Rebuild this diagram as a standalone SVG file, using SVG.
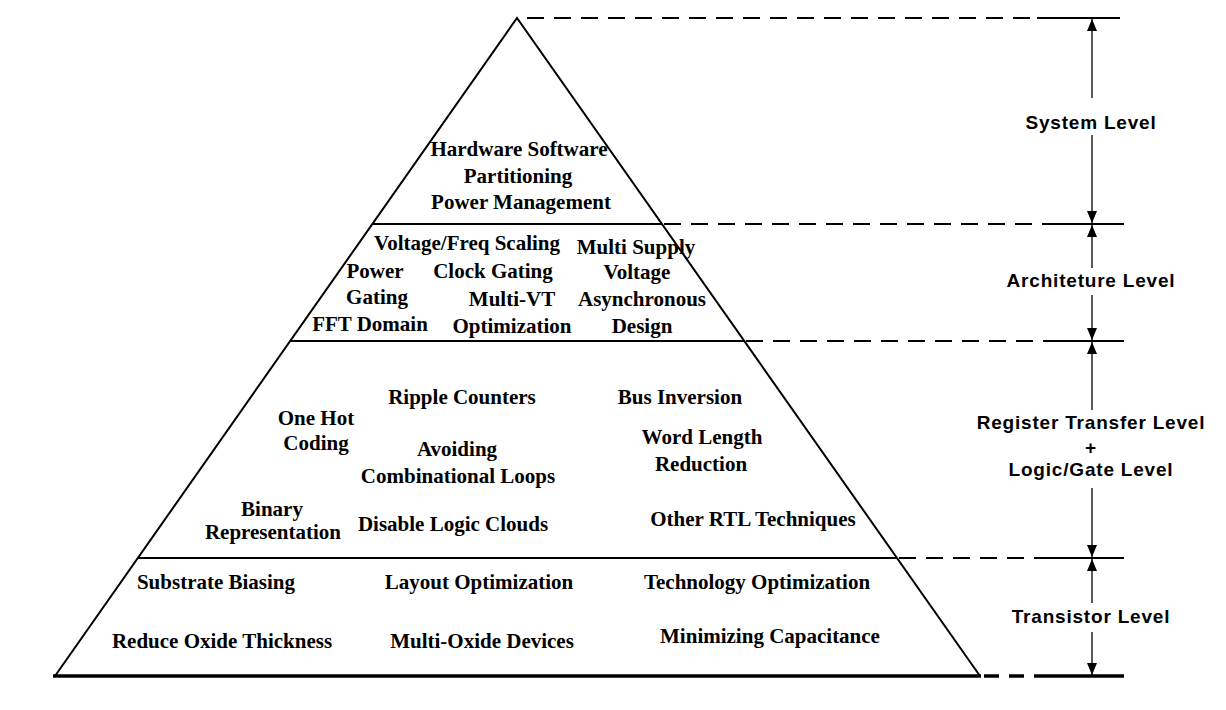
<svg xmlns="http://www.w3.org/2000/svg" width="1226" height="710" viewBox="0 0 1226 710">
<style>
.p{font-family:"Liberation Serif","Times New Roman",serif;font-weight:bold;font-size:21px;fill:#000;text-anchor:middle}
.l{font-family:"Liberation Sans",Arial,sans-serif;font-weight:bold;font-size:19px;letter-spacing:0.8px;fill:#000;text-anchor:middle}
.edge{stroke:#000;stroke-width:2;fill:none}
.dash{stroke:#000;stroke-width:2;stroke-dasharray:17 10;fill:none}
.solid{stroke:#000;stroke-width:2;fill:none}
.arr{stroke:#000;stroke-width:1.3;fill:none;marker-end:url(#ah)}
</style>
<defs>
<marker id="ah" viewBox="0 0 12 10" refX="12" refY="5" markerWidth="12" markerHeight="10" markerUnits="userSpaceOnUse" orient="auto">
<path d="M0,0 L12,5 L0,10 Z" fill="#000"/>
</marker>
</defs>
<rect width="1226" height="710" fill="#fff"/>
<g id="pyramid">
<polyline class="edge" points="55,676 517,18 980,676"/>
<line x1="372" y1="224" x2="662" y2="224" class="edge"/>
<line x1="290" y1="341" x2="744" y2="341" class="edge"/>
<line x1="138" y1="558" x2="897" y2="558" class="edge"/>
<line x1="53" y1="676" x2="981" y2="676" stroke="#000" stroke-width="3.5"/>
</g>
<g id="guides">
<line x1="527" y1="18" x2="1037" y2="18" class="dash"/>
<line x1="1037" y1="18" x2="1120" y2="18" class="solid"/>
<line x1="664" y1="224" x2="1045" y2="224" class="dash"/>
<line x1="1045" y1="224" x2="1124" y2="224" class="solid"/>
<line x1="746" y1="341" x2="1048" y2="341" class="dash"/>
<line x1="1048" y1="341" x2="1124" y2="341" class="solid"/>
<line x1="899" y1="558" x2="1047" y2="558" class="dash"/>
<line x1="1047" y1="558" x2="1124" y2="558" class="solid"/>
<line x1="984" y1="676" x2="1045" y2="676" stroke="#000" stroke-width="3.5" stroke-dasharray="15 10"/>
<line x1="1045" y1="676" x2="1124" y2="676" stroke="#000" stroke-width="3.5"/>
</g>
<g id="system-level">
<text class="p" x="519" y="156">Hardware Software</text>
<text class="p" x="518" y="183">Partitioning</text>
<text class="p" x="521" y="209">Power Management</text>
<text class="l" x="1091" y="129">System Level</text>
</g>
<g id="architecture-level">
<text class="p" x="467" y="250">Voltage/Freq Scaling</text>
<text class="p" x="636" y="254">Multi Supply</text>
<text class="p" x="375" y="278">Power</text>
<text class="p" x="493" y="278">Clock Gating</text>
<text class="p" x="637" y="279">Voltage</text>
<text class="p" x="377" y="304">Gating</text>
<text class="p" x="512" y="306">Multi-VT</text>
<text class="p" x="642" y="306">Asynchronous</text>
<text class="p" x="370" y="331">FFT Domain</text>
<text class="p" x="512" y="333">Optimization</text>
<text class="p" x="642" y="333">Design</text>
<text class="l" x="1091" y="287">Architeture Level</text>
</g>
<g id="rtl-logic-level">
<text class="p" x="462" y="404">Ripple Counters</text>
<text class="p" x="680" y="404">Bus Inversion</text>
<text class="p" x="316" y="425">One Hot</text>
<text class="p" x="316" y="450">Coding</text>
<text class="p" x="457" y="456">Avoiding</text>
<text class="p" x="458" y="483">Combinational Loops</text>
<text class="p" x="702" y="444">Word Length</text>
<text class="p" x="701" y="471">Reduction</text>
<text class="p" x="272" y="516">Binary</text>
<text class="p" x="273" y="539">Representation</text>
<text class="p" x="453" y="531">Disable Logic Clouds</text>
<text class="p" x="753" y="526">Other RTL Techniques</text>
<text class="l" x="1091" y="429">Register Transfer Level</text>
<text class="l" x="1091" y="454">+</text>
<text class="l" x="1091" y="476">Logic/Gate Level</text>
</g>
<g id="transistor-level">
<text class="p" x="216" y="589">Substrate Biasing</text>
<text class="p" x="479" y="589">Layout Optimization</text>
<text class="p" x="757" y="589">Technology Optimization</text>
<text class="p" x="222" y="648">Reduce Oxide Thickness</text>
<text class="p" x="482" y="648">Multi-Oxide Devices</text>
<text class="p" x="770" y="643">Minimizing Capacitance</text>
<text class="l" x="1091" y="623">Transistor Level</text>
</g>
<g id="connectors">
<line class="arr" x1="1092" y1="98" x2="1092" y2="19"/>
<line class="arr" x1="1092" y1="135" x2="1092" y2="223"/>
<line class="arr" x1="1092" y1="268" x2="1092" y2="225"/>
<line class="arr" x1="1092" y1="295" x2="1092" y2="340"/>
<line class="arr" x1="1092" y1="410" x2="1092" y2="342"/>
<line class="arr" x1="1092" y1="488" x2="1092" y2="557"/>
<line class="arr" x1="1092" y1="603" x2="1092" y2="559"/>
<line class="arr" x1="1092" y1="632" x2="1092" y2="675"/>
</g>
</svg>
